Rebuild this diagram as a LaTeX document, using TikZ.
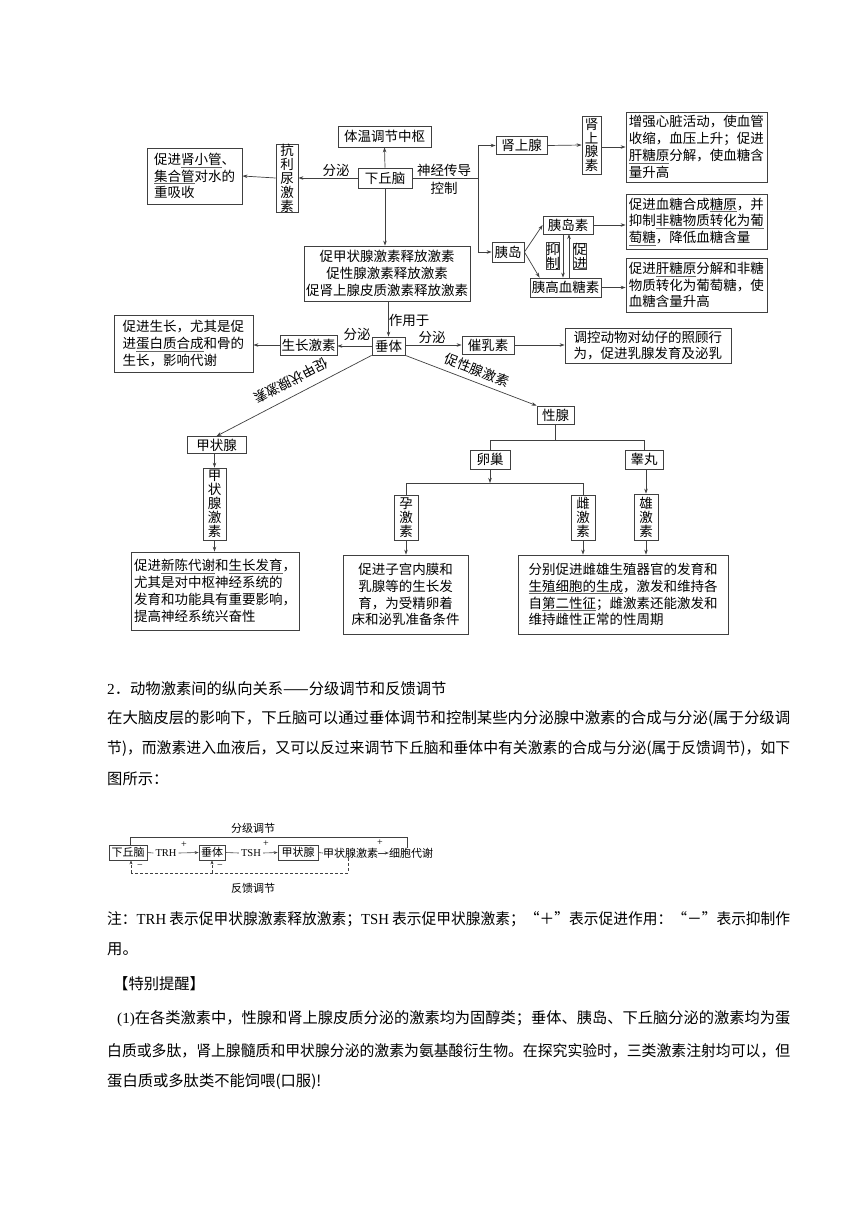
\documentclass[tikz,border=0pt]{standalone}
\usepackage{fontspec}
\usepackage{graphicx}
\usetikzlibrary{arrows.meta,calc}
\newfontfamily\cjk{Noto Sans CJK SC}
\newfontfamily\lat{Liberation Serif}
\newcommand\dfont{\cjk\fontsize{13.5pt}{16.8pt}\selectfont}
\newcommand\vfont{\cjk\fontsize{13.5pt}{13.9pt}\selectfont}
\newcommand\pfont{\cjk\fontsize{15.3pt}{18pt}\selectfont}
\newcommand\sfont{\cjk\fontsize{11pt}{13pt}\selectfont}
\newcommand\ulx[1]{\leavevmode\setbox0\hbox{#1}\rlap{\color{black!60}\rule[-2.8pt]{\wd0}{0.6pt}}\box0}
\newcommand\fitline[2]{\resizebox{#1}{\height}{#2}}
\tikzset{
  bx/.style={draw=black!75, line width=0.8pt, inner sep=0pt, font=\dfont, align=center},
  vb/.style={bx, font=\vfont},
  lbl/.style={inner sep=0pt, font=\dfont, align=center},
  arr/.style={draw=black!75, line width=0.7pt, -{Stealth[length=5pt,width=3.5pt]}},
  ln/.style={draw=black!75, line width=0.7pt},
  ptext/.style={anchor=west, inner sep=0pt, font=\pfont},
  sbx/.style={draw=black!75, line width=0.7pt, inner sep=0pt, font=\sfont},
  stx/.style={inner sep=0pt, font=\sfont},
  sarr/.style={draw=black!75, line width=0.6pt, -{Stealth[length=4pt,width=3pt]}},
  sln/.style={draw=black!75, line width=0.6pt},
  dsh/.style={draw=black!75, line width=0.6pt, dash pattern=on 3pt off 2pt},
  pm/.style={inner sep=0pt, font=\lat\fontsize{10pt}{11pt}\selectfont}
}
\begin{document}
\begin{tikzpicture}[x=1pt, y=-1pt]
\useasboundingbox (0,0) rectangle (860,1216);
\fill[white] (0,0) rectangle (860,1216);

% ---------- top diagram ----------
\node[bx, minimum width=93pt, minimum height=21pt] (tw) at (384.5,136.5) {体温调节中枢};
\node[bx, minimum width=54pt, minimum height=20pt] (xqn) at (385,178) {下丘脑};
\node[vb, minimum width=22pt, minimum height=68pt] (kln) at (287,178) {抗\\利\\尿\\激\\素};
\node[bx, align=left, text width=81pt, minimum width=95pt, minimum height=56pt] (ckg) at (194.5,176)
  {促进\ulx{肾小管}、\\\ulx{集合管}对水的\\重吸收};
\draw[arr] (xqn.north) -- (tw.south);
\draw[arr] (xqn.west) -- (kln.east);
\draw[arr] (kln.west) -- (ckg.east);
\node[lbl] (fm1) at (336,170) {分泌};
\node[lbl] (sj) at (444,170) {神经传导};
\node[lbl] (kz) at (444,188) {控制};

\node[bx, minimum width=51pt, minimum height=18pt] (syx) at (521.5,145.5) {肾上腺};
\node[vb, minimum width=19pt, minimum height=58pt] (syxs) at (591.5,145) {肾\\上\\腺\\素};
\node[bx, align=left, text width=135.5pt, minimum width=141pt, minimum height=70pt] (zq) at (696.5,147)
  {增强心脏活动，使血管\\收缩，血压上升；促进\\\ulx{肝糖原}分解，使血糖含\\量升高};
\node[bx, minimum width=32pt, minimum height=20pt] (yd) at (508,252) {胰岛};
\node[bx, minimum width=50pt, minimum height=18pt] (yds) at (568,225) {胰岛素};
\node[bx, minimum width=71pt, minimum height=19pt] (ygx) at (565.5,287.5) {胰高血糖素};
\node[bx, align=left, text width=135.5pt, minimum width=141pt, minimum height=55pt] (cjxt) at (696.5,221.5)
  {促进血糖合成\ulx{糖原}，并\\抑制\ulx{非糖物质转化为葡}\\\ulx{萄糖}，降低血糖含量};
\node[bx, align=left, text width=135.5pt, minimum width=141pt, minimum height=54pt] (cjgt) at (696.5,285)
  {促进\ulx{肝糖原}分解和非糖\\物质转化为葡萄糖，使\\血糖含量升高};
\coordinate (j1) at (478,178);
\coordinate (j2) at (478,145.5);
\coordinate (j3) at (478,252);
\draw[ln] (xqn.east) -- (j1);
\draw[ln] (j2) -- (j3);
\draw[arr] (j2) -- (syx.west);
\draw[arr] (j3) -- (yd.west);
\draw[arr] (syx.east) -- (syxs.west);
\draw[arr] (syxs.east |- zq.west) -- (zq.west);
\draw[arr] (yd.east) -- (yds.west);
\draw[arr] (yd.east) -- ($(ygx.north west)+(10,0)$);
\draw[arr] (yds.east) -- (yds.east -| cjxt.west);
\draw[arr] (ygx.east) -- (ygx.east -| cjgt.west);
\coordinate (ya) at (563,234);
\coordinate (yb) at (569,234);
\draw[arr] (ya) -- (ya |- ygx.north);
\draw[arr] (yb |- ygx.north) -- (yb);
\node[vb] (yz) at (553,256) {抑\\制};
\node[vb] (cjl) at (580,256) {促\\进};

\node[bx, text width=166pt, minimum width=166pt, minimum height=55pt] (cj) at (387,273.5)
  {促甲状腺激素释放激素\\促性腺激素释放激素\\促肾上腺皮质激素释放激素};
\draw[arr] (xqn.south) -- (xqn.south |- cj.north);
\node[bx, minimum width=33pt, minimum height=18pt] (ct) at (388.5,346) {垂体};
\draw[arr] (ct.north |- cj.south) -- (ct.north);
\node[lbl] (zyy) at (409,320) {作用于};
\node[bx, minimum width=57pt, minimum height=20pt] (szjs) at (308.5,345) {生长激素};
\node[bx, align=left, text width=122pt, minimum width=139pt, minimum height=57pt] (cjsz) at (183.5,343.5)
  {促进生长，尤其是促\\进\ulx{蛋白质合成}和骨的\\生长，影响代谢};
\draw[arr] (ct.west) -- (ct.west -| szjs.east);
\draw[arr] (szjs.west) -- (szjs.west -| cjsz.east);
\node[lbl] (fm2) at (357,334) {分泌};
\node[bx, minimum width=52pt, minimum height=18pt] (crs) at (488,345) {催乳素};
\node[bx, align=left, text width=149pt, minimum width=166pt, minimum height=35pt] (tk) at (648,345.5)
  {调控动物对幼仔的照顾行\\为，促进乳腺发育及泌乳};
\draw[arr] (ct.east |- crs.west) -- (crs.west);
\draw[arr] (crs.east) -- (crs.east -| tk.west);
\node[lbl] (fm3) at (432,337) {分泌};

\node[bx, minimum width=59pt, minimum height=17pt] (jzx) at (216.5,445) {甲状腺};
\node[bx, minimum width=37pt, minimum height=18pt] (xx) at (555.5,415) {性腺};
\draw[arr] (ct.south west) -- (jzx.north);
\draw[arr] (ct.south east) -- (xx.north west);
\node[lbl, rotate=207.5] (cjzl) at (291,381) {促甲状腺激素};
\node[lbl, rotate=-21] (cxl) at (477,370) {促性腺激素};

\node[vb, minimum width=23pt, minimum height=72pt] (jzxjs) at (214.5,504) {甲\\状\\腺\\激\\素};
\node[bx, align=left, text width=162pt, minimum width=168pt, minimum height=78pt] (jzxe) at (215,591)
  {促进\ulx{新陈代谢}和\ulx{生长发育}，\\尤其是对中枢神经系统的\\发育和功能具有重要影响，\\提高神经系统兴奋性};
\draw[arr] (jzx.south -| jzxjs.north) -- (jzxjs.north);
\draw[arr] (jzxjs.south) -- (jzxjs.south |- jzxe.north);

\node[bx, minimum width=40pt, minimum height=19pt] (lc) at (490,459.5) {卵巢};
\node[bx, minimum width=38pt, minimum height=19pt] (gw) at (644,459.5) {睾丸};
\coordinate (k1) at (555.5,440);
\draw[ln] (xx.south) -- (k1);
\draw[ln] (lc.north) -- (lc.north |- k1) -- (gw.north |- k1) -- (gw.north);

\node[vb, minimum width=24pt, minimum height=45pt] (yjs) at (406,517.5) {孕\\激\\素};
\node[vb, minimum width=24pt, minimum height=45pt] (cjs) at (583,517.5) {雌\\激\\素};
\node[vb, minimum width=24pt, minimum height=46pt] (xjs) at (646,517) {雄\\激\\素};
\coordinate (k2) at (490,483);
\draw[arr] (lc.south) -- (k2);
\draw[ln] (yjs.north) -- (yjs.north |- k2) -- (cjs.north |- k2) -- (cjs.north);
\draw[arr] (gw.south -| xjs.north) -- (xjs.north);

\node[bx, text width=110pt, minimum width=125pt, minimum height=79pt] (yjse) at (405.5,594.5)
  {促进子宫内膜和\\乳腺等的生长发\\育，为受精卵着\\床和泌乳准备条件};
\node[bx, align=left, text width=189pt, minimum width=210pt, minimum height=79pt] (big) at (623,594.5)
  {分别促进雌雄生殖器官的发育和\\\ulx{生殖细胞的生成}，激发和维持各\\自\ulx{第二性征}；雌激素还能激发和\\维持雌性正常的性周期};
\draw[arr] (yjs.south) -- (yjs.south |- yjse.north);
\draw[arr] (cjs.south) -- (cjs.south |- big.north);
\draw[arr] (xjs.south) -- (xjs.south |- big.north);

% ---------- text ----------
\node[ptext] (p1) at (107,689) {{\lat 2}．动物激素间的纵向关系——分级调节和反馈调节};
\node[ptext] (p2) at (107,719) {\fitline{683pt}{在大脑皮层的影响下，下丘脑可以通过垂体调节和控制某些内分泌腺中激素的合成与分泌(属于分级调}};
\node[ptext] (p3) at (107,749) {\fitline{683pt}{节)，而激素进入血液后，又可以反过来调节下丘脑和垂体中有关激素的合成与分泌(属于反馈调节)，如下}};
\node[ptext] (p4) at (107,779) {图所示：};

% ---------- small diagram ----------
\node[stx] (fjt) at (253,828) {分级调节};
\node[sbx, minimum width=38pt, minimum height=15pt] (sx) at (128,852.5) {下丘脑};
\node[sbx, minimum width=26pt, minimum height=15pt] (sc) at (212,852.5) {垂体};
\node[sbx, minimum width=40pt, minimum height=15pt] (sj2) at (298,852.5) {甲状腺};
\node[stx, inner xsep=2pt, font=\lat\fontsize{10.5pt}{12pt}\selectfont] (trh) at (166,853) {TRH};
\node[stx, inner xsep=2pt, font=\lat\fontsize{10.5pt}{12pt}\selectfont] (tsh) at (251,853) {TSH};
\node[stx] (jjs) at (350.5,853) {甲状腺激素};
\node[stx] (cb) at (411,853) {细胞代谢};
\draw[sln] (sx.east) -- (trh.west);
\draw[sarr] (trh.east) -- (sc.west);
\draw[sln] (sc.east) -- (tsh.west);
\draw[sarr] (tsh.east) -- (sj2.west);
\draw[sln] (sj2.east) -- (jjs.west);
\draw[sarr] (jjs.east) -- (cb.west);
\node[pm] (pl1) at (184,845) {+};
\node[pm] (pl2) at (266,844) {+};
\node[pm] (pl3) at (380,843) {+};
\coordinate (t1) at (130,837);
\coordinate (t2) at (407,837);
\draw[sln] (sx.north -| t1) -- (t1) -- (t2) -- (t2 |- cb.north);
\coordinate (f1) at (131,873);
\coordinate (f2) at (212,873);
\coordinate (f3) at (348,873);
\draw[dsh] (f3 |- jjs.south) -- (f3) -- (f1);
\draw[dsh, -{Stealth[length=4pt,width=3pt]}] (f1) -- (f1 |- sx.south);
\draw[dsh, -{Stealth[length=4pt,width=3pt]}] (f2) -- (f2 |- sc.south);
\node[pm] (mi1) at (140,867) {−};
\node[pm] (mi2) at (220,867) {−};
\node[stx] (fkt) at (253,888) {反馈调节};

% ---------- notes ----------
\node[ptext] (p5) at (107,919) {\fitline{683pt}{注：{\lat TRH} 表示促甲状腺激素释放激素；{\lat TSH} 表示促甲状腺激素；“＋”表示促进作用：“－”表示抑制作}};
\node[ptext] (p6) at (107,949) {用。};
\node[ptext] (p7) at (113,984) {【特别提醒】};
\node[ptext] (p8) at (117,1019) {\fitline{673pt}{{\lat (1)}在各类激素中，性腺和肾上腺皮质分泌的激素均为固醇类；垂体、胰岛、下丘脑分泌的激素均为蛋}};
\node[ptext] (p9) at (107,1051) {\fitline{683pt}{白质或多肽，肾上腺髓质和甲状腺分泌的激素为氨基酸衍生物。在探究实验时，三类激素注射均可以，但}};
\node[ptext] (p10) at (107,1082) {蛋白质或多肽类不能饲喂(口服)!};
\end{tikzpicture}
\end{document}
